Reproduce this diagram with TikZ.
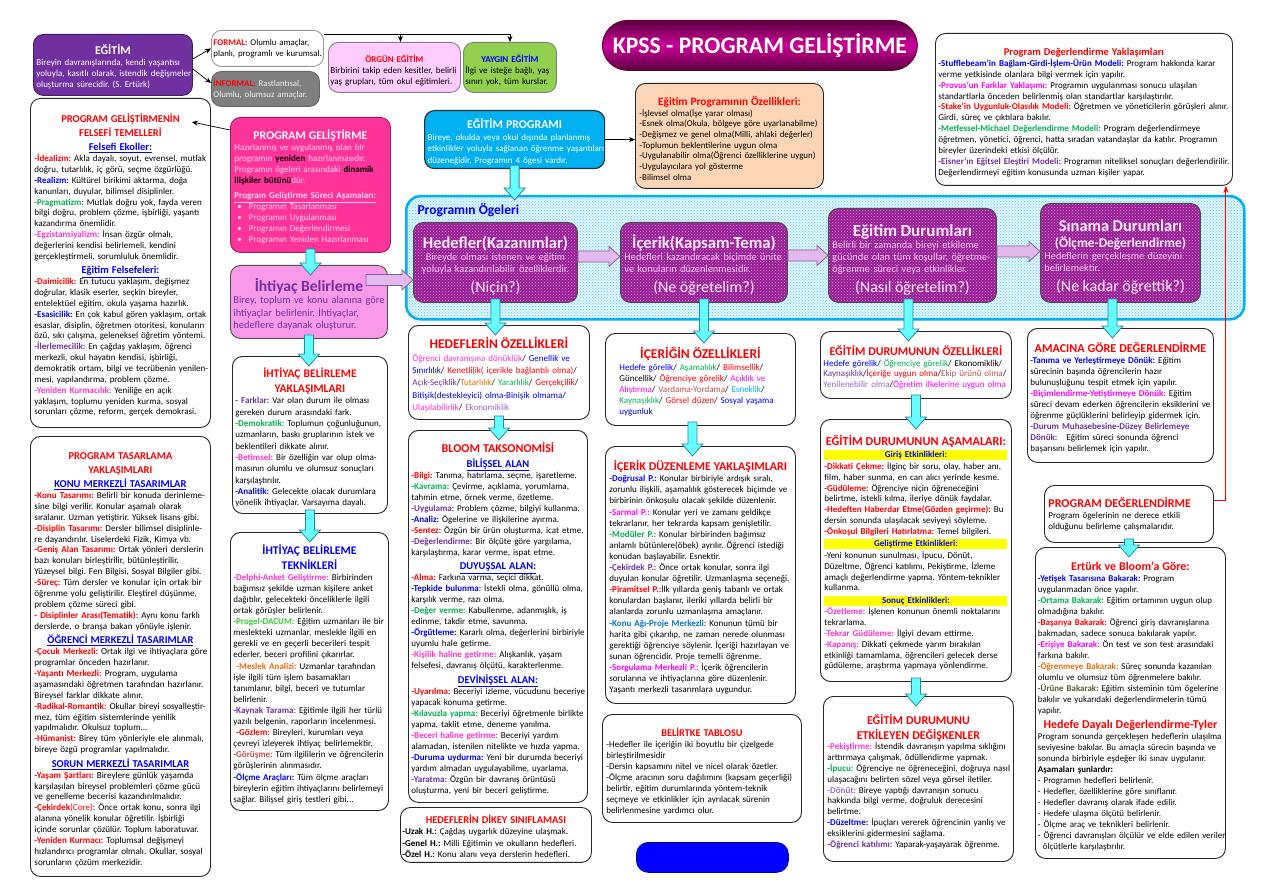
\documentclass[tikz,border=0pt]{standalone}
\usepackage{fontspec}
\setmainfont{Carlito}
\usepackage{xcolor}
\usepackage{tikz}
\usetikzlibrary{arrows.meta,calc,patterns,positioning}
\setlength{\parindent}{0pt}
\frenchspacing
\definecolor{kred}{HTML}{FF0000}
\definecolor{kblue}{HTML}{0000FF}
\definecolor{kgreen}{HTML}{00B050}
\definecolor{klgreen}{HTML}{33CC33}
\definecolor{kpink}{HTML}{FF33CC}
\definecolor{kmag}{HTML}{FF00FF}
\definecolor{kpurp}{HTML}{7030A0}
\definecolor{klpurp}{HTML}{9966CC}
\definecolor{korange}{HTML}{E46C0A}
\definecolor{kbrown}{HTML}{C0504D}
\definecolor{kcyan}{HTML}{00B0F0}
\definecolor{kolive}{HTML}{4F6228}
\definecolor{kkonu}{HTML}{0070C0}
\definecolor{egpurple}{HTML}{7030A0}
\definecolor{pgpink}{HTML}{FF3399}
\definecolor{pgtext}{HTML}{FFD6EE}
\definecolor{ihpink}{HTML}{F99AE9}
\definecolor{egblue}{HTML}{00B0F0}
\definecolor{peach}{HTML}{FBD5B5}
\definecolor{orgpink}{HTML}{FFCCFF}
\definecolor{ygreen}{HTML}{92D050}
\definecolor{infgray}{HTML}{7F7F7F}
\definecolor{ogpurple}{HTML}{961C94}
\definecolor{ogdot}{HTML}{D890D8}
\definecolor{ogsub}{HTML}{F4C8F0}
\definecolor{ogtitle}{HTML}{FBEAFB}
\definecolor{ogbg}{HTML}{DDF4FC}
\definecolor{ogbgdot}{HTML}{70CCF0}
\definecolor{arrcyan}{HTML}{66FFFF}
\definecolor{arrline}{HTML}{31859C}
\definecolor{arrpink}{HTML}{E4B8EC}
\definecolor{arrpurp}{HTML}{8064A2}
\definecolor{kpsmid}{HTML}{CC0099}
\definecolor{kpsdark}{HTML}{5A003E}
\definecolor{ybar}{HTML}{FFFF00}

\begin{document}
\begin{tikzpicture}[x=1pt, y=-1pt,
  font=\fontsize{9}{10.9}\selectfont,
  fs/.style 2 args={font=\fontsize{#1}{#2}\selectfont},
  card/.style={draw=black!85, line width=0.9pt, rounded corners=10pt, fill=white,
               anchor=north west, align=left, inner xsep=4pt, inner ysep=3pt,
               execute at begin node={\rightskip=-6pt plus 1fil\relax}},
  ogebox/.style={draw=black!70, line width=0.9pt, rounded corners=10pt,
               preaction={fill=ogpurple}, pattern=crosshatch dots, pattern color=ogdot,
               anchor=north west, align=left, text=ogtitle, inner xsep=4pt, inner ysep=2pt,
               font=\fontsize{10.3}{12}\selectfont,
               execute at begin node={\rightskip=-6pt plus 1fil\relax}},
  cyanarr/.style={fill=arrcyan, draw=arrline, line width=0.8pt},
  pinkarr/.style={fill=arrpink, draw=arrpurp, line width=0.8pt},
  con/.style={draw=black, line width=0.7pt, -{Stealth[length=6pt,width=5pt]}},
  redln/.style={draw=kred, line width=1pt, -{Stealth[length=7pt,width=5pt]}}
]
\newcommand{\boxtitle}[1]{\par{\centering #1\par}}
\newcommand{\secthead}[2][10.5]{\par{\centering\fontsize{#1}{14.5}\selectfont\bfseries\color{kblue}\underline{#2}\par}}
\newcommand{\hred}[1]{{\color{kred}\bfseries #1}}
\newcommand{\hblue}[1]{{\color{kblue}\bfseries #1}}
\newcommand{\hgreen}[1]{{\color{kgreen}\bfseries #1}}
\newcommand{\hlgreen}[1]{{\color{klgreen}\bfseries #1}}
\newcommand{\hpink}[1]{{\color{kpink}\bfseries #1}}
\newcommand{\hmag}[1]{{\color{kmag}\bfseries #1}}
\newcommand{\hpurp}[1]{{\color{kpurp}\bfseries #1}}
\newcommand{\hlpurp}[1]{{\color{klpurp}\bfseries #1}}
\newcommand{\horange}[1]{{\color{korange}\bfseries #1}}
\newcommand{\hbrown}[1]{{\color{kbrown}\bfseries #1}}
\newcommand{\holive}[1]{{\color{kolive}\bfseries #1}}
\newcommand{\hkonu}[1]{{\color{kkonu}\bfseries #1}}
\newcommand{\ybar}[1]{\par\vspace{1.5pt}{\setlength{\fboxsep}{1pt}\colorbox{ybar}{\makebox[\dimexpr\linewidth-2pt\relax]{\color{kblue}\bfseries #1}}\par}\vspace{1pt}}
\newcommand{\cyandown}[2]{%
  \path[cyanarr] let \p1=(#1), \p2=(#2) in
    (\x1-4.5pt,\y1+4pt) -- (\x1+4.5pt,\y1+4pt) -- (\x1+4.5pt,\y2+2pt)
    -- (\x1+10.5pt,\y2+2pt) -- (\x1,\y2-10pt) -- (\x1-10.5pt,\y2+2pt)
    -- (\x1-4.5pt,\y2+2pt) -- cycle;}
\newcommand{\pinkright}[2]{%
  \path[pinkarr] let \p1=(#1), \p2=(#2) in
    (\x1,\y1+5.5pt) -- (\x2-11pt,\y1+5.5pt) -- (\x2-11pt,\y1+10pt) -- (\x2,\y1)
    -- (\x2-11pt,\y1-10pt) -- (\x2-11pt,\y1-5.5pt) -- (\x1,\y1-5.5pt) -- cycle;}

\path[use as bounding box, fill=white] (0,0) rectangle (1263,893);

% ust sira
\node[card, fill=egpurple, draw=egpurple!60!black, text=white, inner xsep=3pt, text width=153pt,
      minimum height=61pt, fs={9}{11}] (egitim) at (33,34)
  {\boxtitle{\fontsize{11.9}{14}\selectfont\bfseries EĞİTİM}
   Bireyin davranışlarında, kendi yaşantısı\\
   yoluyla, kasıtlı olarak, istendik değişmeler\\
   oluşturma sürecidir. (S. Ertürk)};
\node[card, draw=black!40, inner xsep=2pt, text width=108pt, minimum height=36pt,
      fs={8.8}{11}] (formal) at (211,30)
  {\hred{FORMAL:} Olumlu amaçlar,\\ planlı, programlı ve kurumsal.};
\node[card, fill=infgray, draw=black!60, text=white!95!black, inner xsep=2pt,
      text width=104pt, minimum height=35pt, fs={8.8}{11}] (informal) at (211,71)
  {\hred{İNFORMAL:} Rastlantısal,\\ Olumlu, olumsuz amaçlar.};
\node[card, fill=orgpink, draw=black!50, inner xsep=2pt, text width=128pt,
      minimum height=50pt, fs={9}{11}] (orgun) at (328,42)
  {\boxtitle{\fontsize{8.9}{13}\selectfont\hred{ÖRGÜN EĞİTİM}}
   Birbirini takip eden kesitler, belirli\\ yaş grupları, tüm okul eğitimleri.};
\node[card, fill=ygreen, draw=black!50, inner xsep=2pt, text width=89pt,
      minimum height=50pt, fs={9}{11}] (yaygin) at (463,42)
  {\boxtitle{\fontsize{9}{13}\selectfont\hblue{YAYGIN EĞİTİM}}
   İlgi ve isteğe bağlı, yaş\\ sınırı yok, tüm kurslar.};
\node[anchor=north west, minimum width=315pt, minimum height=50pt, inner sep=0pt,
      rounded corners=25pt, draw=kpsdark, line width=0.8pt,
      top color=kpsdark, bottom color=kpsdark, middle color=kpsmid,
      text=white, font=\fontsize{23.7}{27}\selectfont\bfseries] (baslik) at (602,20)
  {KPSS - PROGRAM GELİŞTİRME};

\draw[con] ($(egitim.east)+(0,-6)$) -- (formal.west);
\draw[con] ($(egitim.east)+(0,4)$) -- ($(informal.west)+(0,-6)$);
\coordinate (fk) at ($(formal.north east)+(0,4)$);
\draw[con] (fk) -| (yaygin.north);
\draw[con] ([xshift=6pt]orgun.north |- fk) -- ([xshift=6pt]orgun.north);

\node[card, inner xsep=3pt, text width=291pt, minimum height=152pt, fs={9}{10.9}] (pdy) at (935,33)
 {\boxtitle{\color{kred}\fontsize{10.5}{13.5}\selectfont\bfseries Program Değerlendirme Yaklaşımları}
  \hblue{-Stufflebeam’in Bağlam-Girdi-İşlem-Ürün Modeli:} Program hakkında karar\\
  verme yetkisinde olanlara bilgi vermek için yapılır.\\
  \hmag{-Provus’un Farklar Yaklaşımı:} Programın uygulanması sonucu ulaşılan\\
  standartlarla önceden belirlenmiş olan standartlar karşılaştırılır.\\
  \hred{-Stake’in Uygunluk-Olasılık Modeli:} Öğretmen ve yöneticilerin görüşleri alınır.\\
  Girdi, süreç ve çıktılara bakılır.\\
  \hgreen{-Metfessel-Michael Değerlendirme Modeli:} Program değerlendirmeye\\
  öğretmen, yönetici, öğrenci, hatta sıradan vatandaşlar da katılır. Programın\\
  bireyler üzerindeki etkisi ölçülür.\\
  \hpurp{-Eisner’ın Eğitsel Eleştiri Modeli:} Programın niteliksel sonuçları değerlendirilir.\\
  Değerlendirmeyi eğitim konusunda uzman kişiler yapar.};

% egitim programi
\node[card, fill=egblue, draw=black!80, line width=1.2pt, text=white, inner xsep=3pt, text width=174pt,
      minimum height=58pt, fs={9}{11.6}] (egprog) at (424,110)
 {\boxtitle{\fontsize{11.9}{14.5}\selectfont\bfseries EĞİTİM PROGRAMI}
  Bireye, okulda veya okul dışında planlanmış\\
  etkinlikler yoluyla sağlanan öğrenme yaşantıları\\
  düzeneğidir. Programın 4 ögesi vardır.};
\node[card, fill=peach, text width=180pt, minimum height=105pt, fs={8.9}{10.7}] (egozel) at (635,83)
 {\boxtitle{\color{kred}\fontsize{11.3}{14}\selectfont\bfseries Eğitim Programının Özellikleri:}
  -İşlevsel olma(İşe yarar olması)\\
  -Esnek olma(Okula, bölgeye göre uyarlanabilme)\\
  -Değişmez ve genel olma(Milli, ahlaki değerler)\\
  -Toplumun beklentilerine uygun olma\\
  -Uygulanabilir olma(Öğrenci özelliklerine uygun)\\
  -Uygulayıcılara yol gösterme\\
  -Bilimsel olma};
\draw[con] (egprog.east) -- (egprog.east -| egozel.west);

% sol sutun
\node[card, text width=172pt, minimum height=329pt, fs={9}{10.85}] (felsefe) at (30,98)
 {\boxtitle{\color{kred}\fontsize{10.5}{13.5}\selectfont\bfseries PROGRAM GELİŞTİRMENİN\\ FELSEFİ TEMELLERİ}
  \secthead{Felsefi Ekoller:}
  \hred{-İdealizm:} Akla dayalı, soyut, evrensel, mutlak\\
  doğru, tutarlılık, iç görü, seçme özgürlüğü.\\
  \hblue{-Realizm:} Kültürel birikimi aktarma, doğa\\
  kanunları, duyular, bilimsel disiplinler.\\
  \hgreen{-Pragmatizm}: Mutlak doğru yok, fayda veren\\
  bilgi doğru, problem çözme, işbirliği, yaşantı\\
  kazandırma önemlidir.\\
  \hpink{-Egzistansiyalizm:} İnsan özgür olmalı,\\
  değerlerini kendisi belirlemeli, kendini\\
  gerçekleştirmeli, sorumluluk önemlidir.
  \secthead{Eğitim Felsefeleri:}
  \hred{-Daimicilik:} En tutucu yaklaşım, değişmez\\
  doğrular, klasik eserler, seçkin bireyler,\\
  entelektüel eğitim, okula yaşama hazırlık.\\
  \hblue{-Esasicilik:} En çok kabul gören yaklaşım, ortak\\
  esaslar, disiplin, öğretmen otoritesi, konuların\\
  özü, sıkı çalışma, geleneksel öğretim yöntemi.\\
  \hpurp{-İlerlemecilik:} En çağdaş yaklaşım, öğrenci\\
  merkezli, okul hayatın kendisi, işbirliği,\\
  demokratik ortam, bilgi ve tecrübenin yenilen-\\
  mesi, yapılandırma, problem çözme.\\
  \hpink{-Yeniden Kurmacılık:} Yeniliğe en açık\\
  yaklaşım, toplumu yeniden kurma, sosyal\\
  sorunları çözme, reform, gerçek demokrasi.};
\node[card, text width=172pt, minimum height=440pt, fs={9.1}{10.9}] (tasarim) at (30,436)
 {\boxtitle{\color{kred}\fontsize{10.5}{13.5}\selectfont\bfseries PROGRAM TASARLAMA\\ YAKLAŞIMLARI}
  \secthead{KONU MERKEZLİ TASARIMLAR}
  \hred{-Konu Tasarımı:} Belirli bir konuda derinleme-\\
  sine bilgi verilir. Konular aşamalı olarak\\
  sıralanır. Uzman yetiştirir. Yüksek lisans gibi.\\
  \hred{-Disiplin Tasarımı:} Dersler bilimsel disiplinle-\\
  re dayandırılır. Liselerdeki Fizik, Kimya vb.\\
  \hred{-Geniş Alan Tasarımı:} Ortak yönleri derslerin\\
  bazı konuları birleştirilir, bütünleştirilir.\\
  Yüzeysel bilgi. Fen Bilgisi, Sosyal Bilgiler gibi.\\
  \hred{-Süreç:} Tüm dersler ve konular için ortak bir\\
  öğrenme yolu geliştirilir. Eleştirel düşünme,\\
  problem çözme süreci gibi.\\
  \hred{- Disiplinler Arası(Tematik)}: Aynı konu farklı\\
  derslerde, o branşa bakan yönüyle işlenir.
  \secthead{ÖĞRENCİ MERKEZLİ TASARIMLAR}
  \hred{-Çocuk Merkezli:} Ortak ilgi ve ihtiyaçlara göre\\
  programlar önceden hazırlanır.\\
  \hred{-Yaşantı Merkezli:} Program, uygulama\\
  aşamasındaki öğretmen tarafından hazırlanır.\\
  Bireysel farklar dikkate alınır.\\
  \hred{-Radikal-Romantik:} Okullar bireyi sosyalleştir-\\
  mez, tüm eğitim sistemlerinde yenilik\\
  yapılmalıdır. Okulsuz toplum...\\
  \hred{-Hümanist:} Birey tüm yönleriyle ele alınmalı,\\
  bireye özgü programlar yapılmalıdır.
  \secthead{SORUN MERKEZLİ TASARIMLAR}
  \hred{-Yaşam Şartları:} Bireylere günlük yaşamda\\
  karşılaşılan bireysel problemleri çözme gücü\\
  ve genelleme becerisi kazandırılmalıdır.\\
  \hred{-Çekirdek}\textcolor{kred}{(Core)}: Önce ortak konu, sonra ilgi\\
  alanına yönelik konular öğretilir. İşbirliği\\
  içinde sorunlar çözülür. Toplum laboratuvar.\\
  \hred{-Yeniden Kurmacı:} Toplumsal değişmeyi\\
  hızlandırıcı programlar olmalı. Okullar, sosyal\\
  sorunların çözüm merkezidir.};

% program gelistirme sutunu
\node[card, fill=pgpink, draw=pgpink!60!black, text=pgtext, text width=152pt,
      minimum height=135pt, fs={9}{11}] (progel) at (230,117)
 {\boxtitle{\color{white}\fontsize{11.8}{14.5}\selectfont\bfseries PROGRAM GELİŞTİRME}
  Hazırlanmış ve uygulanmış olan bir\\
  programın {\color{black}\bfseries yeniden} hazırlanmasıdır.\\
  Programın ögeleri arasındaki {\color{black}\bfseries dinamik}\\
  {\color{black}\bfseries ilişkiler bütünü}dür.\par\vspace{4pt}
  {\bfseries\underline{Program Geliştirme Süreci Aşamaları:}}\\
  \hspace*{3pt}\textbullet\hspace{7pt}Programın Tasarlanması\\
  \hspace*{3pt}\textbullet\hspace{7pt}Programın Uygulanması\\
  \hspace*{3pt}\textbullet\hspace{7pt}Programın Değerlendirmesi\\
  \hspace*{3pt}\textbullet\hspace{7pt}Programın Yeniden Hazırlanması};
\draw[con] ($(progel.north west)+(0,13)$) -- ($(felsefe.north east)+(-19,24)$);
\node[card, fill=ihpink, draw=black!70, text=kpurp, inner xsep=3pt, text width=151pt,
      minimum height=73pt, fs={10.4}{12.3}] (ihtiyac) at (230,265)
 {\boxtitle{\fontsize{15.6}{18}\selectfont\bfseries İhtiyaç Belirleme}
  Birey, toplum ve konu alanına göre\\ ihtiyaçlar belirlenir. İhtiyaçlar,\\ hedeflere dayanak oluşturur.};
\node[card, inner xsep=3pt, text width=149pt, minimum height=157pt, fs={9}{11.3}] (yaklasim) at (232,356)
 {\boxtitle{\color{kred}\fontsize{11.6}{15}\selectfont\bfseries İHTİYAÇ BELİRLEME\\ YAKLAŞIMLARI}
  \hpurp{- Farklar:} Var olan durum ile olması\\
  gereken durum arasındaki fark.\\
  \hgreen{-Demokratik:} Toplumun çoğunluğunun,\\
  uzmanların, baskı gruplarının istek ve\\
  beklentileri dikkate alınır.\\
  \hpink{-Betimsel:} Bir özelliğin var olup olma-\\
  masının olumlu ve olumsuz sonuçları\\
  karşılaştırılır.\\
  \hblue{-Analitik:} Gelecekte olacak durumlara\\
  yönelik ihtiyaçlar. Varsayıma dayalı.};
\node[card, inner xsep=3pt, text width=152pt, minimum height=278pt, fs={9}{11.1}] (teknik) at (230,532)
 {\boxtitle{\color{kblue}\fontsize{11.7}{15}\selectfont\bfseries İHTİYAÇ BELİRLEME\\ TEKNİKLERİ}
  \hpink{-Delphi-Anket Geliştirme:} Birbirinden\\
  bağımsız şekilde uzman kişilere anket\\
  dağıtılır, gelecekteki önceliklerle ilgili\\
  ortak görüşler belirlenir.\\
  \hlgreen{-Progel-DACUM:} Eğitim uzmanları ile bir\\
  meslekteki uzmanlar, meslekle ilgili en\\
  gerekli ve en geçerli becerileri tespit\\
  ederler, beceri profilini çıkarırlar.\\
  \horange{\ -Meslek Analizi:} Uzmanlar tarafından\\
  işle ilgili tüm işlem basamakları\\
  tanımlanır, bilgi, beceri ve tutumlar\\
  belirlenir.\\
  \hpurp{-Kaynak Tarama:} Eğitimle ilgili her türlü\\
  yazılı belgenin, raporların incelenmesi.\\
  \hred{\ -Gözlem:} Bireyleri, kurumları veya\\
  çevreyi izleyerek ihtiyaç belirlemektir.\\
  \hbrown{-Görüşme:} Tüm ilgililerin ve öğrencilerin\\
  görüşlerinin alınmasıdır.\\
  \hblue{-Ölçme Araçları:} Tüm ölçme araçları\\
  bireylerin eğitim ihtiyaçlarını belirlemeyi\\
  sağlar. Bilişsel giriş testleri gibi...};

% programin ogeleri
\node[anchor=north west, minimum width=838pt, minimum height=123pt, inner sep=0pt,
      draw=kcyan, line width=2.5pt, rounded corners=14pt,
      preaction={fill=ogbg}, pattern=crosshatch dots, pattern color=ogbgdot] (ogeler) at (405,195) {};
\node[anchor=west, text=kblue, font=\fontsize{13.5}{16}\selectfont\bfseries] (ogelbl) at (414,210) {Programın Ögeleri};
\node[ogebox, text width=156pt, minimum height=80pt] (hedef) at (413,222)
 {\boxtitle{\fontsize{16.5}{19}\selectfont\bfseries Hedefler(Kazanımlar)}
  \boxtitle{\color{ogsub}Bireyde olması istenen ve eğitim\\ yoluyla kazandırılabilir özelliklerdir.}
  \boxtitle{\fontsize{16}{20}\selectfont (Niçin?)}};
\node[ogebox, text width=159pt, minimum height=80pt] (icerik) at (620,222)
 {\boxtitle{\fontsize{16.7}{19}\selectfont\bfseries İçerik(Kapsam-Tema)}
  {\color{ogsub}Hedefleri kazandıracak biçimde ünite\\ ve konuların düzenlenmesidir.\par}
  \boxtitle{\fontsize{16}{20}\selectfont (Ne öğretelim?)}};
\node[ogebox, text width=160pt, minimum height=94pt] (durum) at (828,208)
 {\boxtitle{\fontsize{17}{20}\selectfont\bfseries Eğitim Durumları}
  {\color{ogsub}Belirli bir zamanda bireyi etkileme\\ gücünde olan tüm koşullar, öğretme-\\ öğrenme süreci veya etkinlikler.\par}
  \boxtitle{\fontsize{16}{20}\selectfont (Nasıl öğretelim?)}};
\node[ogebox, text width=152pt, minimum height=99pt] (sinama) at (1040,203)
 {\boxtitle{\fontsize{16.5}{19}\selectfont\bfseries Sınama Durumları}
  \boxtitle{\fontsize{13.4}{16}\selectfont\bfseries (Ölçme-Değerlendirme)}
  {\color{ogsub}Hedeflerin gerçekleşme düzeyini\\ belirlemektir.\par}
  \boxtitle{\fontsize{16}{20}\selectfont (Ne kadar öğrettik?)}};

% hedefler sutunu
\node[card, text width=173pt, minimum height=94pt, fs={9}{12.3}] (hozel) at (408,325)
 {\boxtitle{\color{kred}\fontsize{13.4}{16}\selectfont\bfseries HEDEFLERİN ÖZELLİKLERİ}
  \textcolor{kpink}{Öğrenci davranışına dönüklük}/ \textcolor{kblue}{Genellik ve}\\
  \textcolor{kblue}{Sınırlılık}/ \textcolor{kred}{Kenetlilik( içerikle bağlantılı olma)}/\\
  \textcolor{kpurp}{Açık-Seçiklik}/\textcolor{korange}{Tutarlılık}/ \textcolor{kgreen}{Yararlılık}/ \textcolor{kred}{Gerçekçilik}/\\
  \textcolor{kblue}{Bitişik(destekleyici) olma-Binişik olmama}/\\
  \textcolor{kpink}{Ulaşılabilirlik}/ \textcolor{klpurp}{Ekonomiklik}};
\node[card, inner xsep=3pt, text width=173pt, minimum height=372pt, fs={9}{11}] (bloom) at (408,430)
 {\boxtitle{\color{kred}\fontsize{12}{15}\selectfont\bfseries BLOOM TAKSONOMİSİ}
  \secthead{BİLİŞSEL ALAN}
  \hred{-Bilgi:} Tanıma, hatırlama, seçme, işaretleme.\\
  \hgreen{-Kavrama:} Çevirme, açıklama, yorumlama,\\
  tahmin etme, örnek verme, özetleme.\\
  \hpurp{-Uygulama}: Problem çözme, bilgiyi kullanma.\\
  \hblue{-Analiz:} Ögelerine ve ilişkilerine ayırma.\\
  \hred{-Sentez}: Özgün bir ürün oluşturma, icat etme.\\
  \hpurp{-Değerlendirme:} Bir ölçüte göre yargılama,\\
  karşılaştırma, karar verme, ispat etme.
  \secthead{DUYUŞSAL ALAN:}
  \hred{-Alma:} Farkına varma, seçici dikkat.\\
  \hblue{-Tepkide bulunma}: İstekli olma, gönüllü olma,\\
  karşılık verme, razı olma.\\
  \hgreen{-Değer verme:} Kabullenme, adanmışlık, iş\\
  edinme, takdir etme, savunma.\\
  \hblue{-Örgütleme:} Kararlı olma, değerlerini birbiriyle\\
  uyumlu hale getirme.\\
  \hpink{-Kişilik haline getirme:} Alışkanlık, yaşam\\
  felsefesi, davranış ölçütü, karakterlenme.
  \secthead{DEVİNİŞSEL ALAN:}
  \hred{-Uyarılma:} Beceriyi izleme, vücudunu beceriye\\
  yapacak konuma getirme.\\
  \hgreen{-Kılavuzla yapma:} Beceriyi öğretmenle birlikte\\
  yapma, taklit etme, deneme yanılma.\\
  \hpink{-Beceri haline getirme:} Beceriyi yardım\\
  alamadan, istenilen nitelikte ve hızda yapma.\\
  \hblue{-Duruma uydurma:} Yeni bir durumda beceriyi\\
  yardım almadan uygulayabilme, uyarlama.\\
  \hpurp{-Yaratma:} Özgün bir davranış örüntüsü\\
  oluşturma, yeni bir beceri geliştirme.};
\node[card, inner xsep=2pt, text width=187pt, minimum height=54pt, fs={9}{11.5}] (dikey) at (400,807)
 {\boxtitle{\color{kred}\fontsize{10.4}{13}\selectfont\bfseries HEDEFLERİN DİKEY SINIFLAMASI}
  {\bfseries -Uzak H.:} Çağdaş uygarlık düzeyine ulaşmak.\\
  {\bfseries -Genel H.:} Milli Eğitimin ve okulların hedefleri.\\
  {\bfseries -Özel H.:} Konu alanı veya derslerin hedefleri.};

% icerik sutunu
\node[card, inner xsep=14pt, text width=162pt, minimum height=92pt, fs={9}{11.1}] (iozel) at (605,333)
 {\boxtitle{\color{kred}\fontsize{13.5}{16}\selectfont\bfseries İÇERİĞİN ÖZELLİKLERİ}
  \textcolor{kblue}{Hedefe görelik}/ \textcolor{kgreen}{Aşamalılık}/ \textcolor{kred}{Bilimsellik}/\\
  Güncellik/ \textcolor{kred}{Öğrenciye görelik}/ \textcolor{kmag}{Açıklık ve}\\
  \textcolor{kmag}{Alıştırma}/ \textcolor{kbrown}{Vardama-Yordama}/ \textcolor{kcyan}{Esneklik}/\\
  \textcolor{kgreen}{Kaynaşıklık}/ \textcolor{kred}{Görsel düzen}/ \textcolor{kblue}{Sosyal yaşama}\\
  \textcolor{kblue}{uygunluk}};
\node[card, text width=182pt, minimum height=257pt, fs={9}{11.1}] (iduz) at (605,446)
 {\boxtitle{\color{kred}\fontsize{12}{15}\selectfont\bfseries İÇERİK DÜZENLEME YAKLAŞIMLARI}
  \hblue{-Doğrusal P.:} Konular birbiriyle ardışık sıralı,\\
  zorunlu ilişkili, aşamalılık gösterecek biçimde ve\\
  birbirinin önkoşulu olacak şekilde düzenlenir.\\
  \hmag{-Sarmal P.:} Konular yeri ve zamanı geldikçe\\
  tekrarlanır, her tekrarda kapsam genişletilir.\\
  \hgreen{-Modüler P.:} Konular birbirinden bağımsız\\
  anlamlı bütünlere(öbek) ayrılır. Öğrenci istediği\\
  konudan başlayabilir. Esnektir.\\
  \hpurp{-Çekirdek P.:} Önce ortak konular, sonra ilgi\\
  duyulan konular öğretilir. Uzmanlaşma seçeneği.\\
  \hred{-Piramitsel P.:}İlk yıllarda geniş tabanlı ve ortak\\
  konulardan başlanır, ileriki yıllarda belirli bir\\
  alanlarda zorunlu uzmanlaşma amaçlanır.\\
  \hkonu{-Konu Ağı-Proje Merkezli:} Konunun tümü bir\\
  harita gibi çıkarılıp, ne zaman nerede olunması\\
  gerektiği öğrenciye söylenir. İçeriği hazırlayan ve\\
  sunan öğrencidir. Proje temelli öğrenme.\\
  \hmag{-Sorgulama Merkezli P.:} İçerik öğrencilerin\\
  sorularına ve ihtiyaçlarına göre düzenlenir.\\
  Yaşantı merkezli tasarımlara uygundur.};
\node[card, text width=191pt, minimum height=108pt, fs={9}{11}] (belirtke) at (602,714)
 {\boxtitle{\color{kred}\fontsize{10.3}{14}\selectfont\bfseries BELİRTKE TABLOSU}
  -Hedefler ile içeriğin iki boyutlu bir çizelgede\\
  birleştirilmesidir\\
  -Dersin kapsamını nitel ve nicel olarak özetler.\\
  -Ölçme aracının soru dağılımını (kapsam geçerliği)\\
  belirtir, eğitim durumlarında yöntem-teknik\\
  seçmeye ve etkinlikler için ayrılacak sürenin\\
  belirlenmesine yardımcı olur.};
\node[anchor=north west, minimum width=152pt, minimum height=30pt, inner sep=0pt,
      rounded corners=12pt, fill=kblue, draw=kblue!60!black, line width=0.8pt] (mavi) at (636,842) {};

% egitim durumlari sutunu
\node[card, inner xsep=3pt, text width=185pt, minimum height=67pt, fs={9}{10.8}] (dozel) at (820,331)
 {\boxtitle{\color{kred}\fontsize{11.9}{14.5}\selectfont\bfseries EĞİTİM DURUMUNUN ÖZELLİKLERİ}
  \textcolor{kblue}{Hedefe görelik}/ \textcolor{kgreen}{Öğrenciye görelik}/ Ekonomiklik/\\
  \textcolor{kpurp}{Kaynaşıklık}/\textcolor{kred}{İçeriğe uygun olma}/\textcolor{kbrown}{Ekip ürünü olma}/\\
  \textcolor{klpurp}{Yenilenebilir olma}/\textcolor{kmag}{Öğretim ilkelerine uygun olma}};
\node[card, text width=183pt, minimum height=262pt, fs={9}{10.8}] (asama) at (820,419)
 {\boxtitle{\color{kred}\fontsize{12.2}{15}\selectfont\bfseries EĞİTİM DURUMUNUN AŞAMALARI:}
  \ybar{Giriş Etkinlikleri:}
  \hred{-Dikkati Çekme:} İlginç bir soru, olay, haber anı,\\
  film, haber sunma, en can alıcı yerinde kesme.\\
  \hred{-Güdüleme:} Öğrenciye niçin öğreneceğini\\
  belirtme, istekli kılma, ileriye dönük faydalar.\\
  \hred{-Hedeften Haberdar Etme(Gözden geçirme):} Bu\\
  dersin sonunda ulaşılacak seviyeyi söyleme.\\
  \hred{-Önkoşul Bilgileri Hatırlatma:} Temel bilgileri.
  \ybar{Geliştirme Etkinlikleri:}
  -Yeni konunun sunulması, İpucu, Dönüt,\\
  Düzeltme, Öğrenci katılımı, Pekiştirme, İzleme\\
  amaçlı değerlendirme yapma. Yöntem-teknikler\\
  kullanma.
  \ybar{Sonuç Etkinlikleri:}
  \hpink{-Özetleme:} İşlenen konunun önemli noktalarını\\
  tekrarlama.\\
  \hpink{-Tekrar Güdüleme:} İlgiyi devam ettirme.\\
  \hpink{-Kapanış:} Dikkati çekmede yarım bırakılan\\
  etkinliği tamamlama, öğrencileri gelecek derse\\
  güdüleme, araştırma yapmaya yönlendirme.};
\node[card, text width=182pt, minimum height=165pt, fs={9}{10.8}] (etkdeg) at (823,696)
 {\boxtitle{\color{kred}\fontsize{12}{15}\selectfont\bfseries EĞİTİM DURUMUNU\\ ETKİLEYEN DEĞİŞKENLER}
  \hpink{-Pekiştirme:} İstendik davranışın yapılma sıklığını\\
  arttırmaya çalışmak, ödüllendirme yapmak.\\
  \hgreen{-İpucu:} Öğrenciye ne öğreneceğini, doğruya nasıl\\
  ulaşacağını belirten sözel veya görsel iletiler.\\
  \hlpurp{-Dönüt:} Bireye yaptığı davranışın sonucu\\
  hakkında bilgi verme, doğruluk derecesini\\
  belirtme.\\
  \hblue{-Düzeltme:} İpuçları vererek öğrencinin yanlış ve\\
  eksiklerini gidermesini sağlama.\\
  \hpurp{-Öğrenci katılımı:} Yaparak-yaşayarak öğrenme.};

% degerlendirme sutunu
\node[card, inner xsep=3pt, text width=180pt, minimum height=134pt, fs={9}{11}] (amac) at (1027,328)
 {\boxtitle{\color{kred}\fontsize{12.1}{15}\selectfont\bfseries AMACINA GÖRE DEĞERLENDİRME}
  \hblue{-Tanıma ve Yerleştirmeye Dönük:} Eğitim\\
  sürecinin başında öğrencilerin hazır\\
  bulunuşluğunu tespit etmek için yapılır.\\
  \hmag{-Biçimlendirme-Yetiştirmeye Dönük:} Eğitim\\
  süreci devam ederken öğrencilerin eksiklerini ve\\
  öğrenme güçlüklerini belirleyip gidermek için.\\
  \hpurp{-Durum Muhasebesine-Düzey Belirlemeye}\\
  \hpurp{Dönük:}\quad Eğitim süreci sonunda öğrenci\\
  başarısını belirlemek için yapılır.};
\node[card, align=center, text width=161pt, minimum height=57pt, fs={9}{11},
      execute at begin node={}] (pdeg) at (1044,485)
 {{\color{kred}\fontsize{12}{15}\selectfont\bfseries PROGRAM DEĞERLENDİRME\par}
  Program ögelerinin ne derece etkili\\ olduğunu belirleme çalışmalarıdır.};
\node[card, inner xsep=2.5pt, text width=185pt, minimum height=311pt, fs={8.9}{11}] (erturk) at (1035,547)
 {\boxtitle{\color{kred}\fontsize{11.9}{15}\selectfont\bfseries Ertürk ve Bloom’a Göre:}
  \hblue{-Yetişek Tasarısına Bakarak:} Program\\
  uygulanmadan önce yapılır.\\
  \hgreen{-Ortama Bakarak:} Eğitim ortamının uygun olup\\
  olmadığına bakılır.\\
  \hred{-Başarıya Bakarak:} Öğrenci giriş davranışlarına\\
  bakmadan, sadece sonuca bakılarak yapılır.\\
  \hmag{-Erişiye Bakarak:} Ön test ve son test arasındaki\\
  farkına bakılır.\\
  \horange{-Öğrenmeye Bakarak:} Süreç sonunda kazanılan\\
  olumlu ve olumsuz tüm öğrenmelere bakılır.\\
  \holive{-Ürüne Bakarak:} Eğitim sisteminin tüm ögelerine\\
  bakılır ve yukarıdaki değerlendirmelerin tümü\\
  yapılır.
  \boxtitle{\color{kred}\fontsize{12}{15}\selectfont\bfseries Hedefe Dayalı Değerlendirme-Tyler}
  Program sonunda gerçekleşen hedeflerin ulaşılma\\
  seviyesine bakılar. Bu amaçla sürecin başında ve\\
  sonunda birbiriyle eşdeğer iki sınav uygulanır.\\
  {\bfseries Aşamaları şunlardır:}\\
  - Programın hedefleri belirlenir.\\
  - Hedefler, özelliklerine göre sınıflanır.\\
  - Hedefler davranış olarak ifade edilir.\\
  - Hedefe ulaşma ölçütü belirlenir.\\
  - Ölçme araç ve teknikleri belirlenir.\\
  - Öğrenci davranışları ölçülür ve elde edilen veriler\\
  \hspace*{5pt}ölçütlerle karşılaştırılır.};
\draw[redln] ($(pdeg.east)+(0,-13)$) -- ++(12,0) coordinate (rc) -- (rc |- pdy.south);

% ok baglantilari
\cyandown{egprog.south}{$(ogeler.north)+(0,-5)$}
\cyandown{progel.south}{ihtiyac.north}
\cyandown{ihtiyac.south}{yaklasim.north}
\cyandown{yaklasim.south}{teknik.north}
\cyandown{hedef.south}{hozel.north}
\cyandown{hozel.south}{bloom.north}
\cyandown{icerik.south}{iozel.north}
\cyandown{$(iozel.south)+(-8,0)$}{iduz.north}
\cyandown{$(durum.south)+(-4,0)$}{dozel.north}
\cyandown{dozel.south}{asama.north}
\cyandown{asama.south}{etkdeg.north}
\cyandown{$(sinama.south)+(-8,0)$}{amac.north}
\cyandown{pdeg.south}{erturk.north}
\pinkright{$(ihtiyac.east)+(-22,-22)$}{hedef.west}
\pinkright{$(hedef.east)+(0,-6)$}{icerik.west}
\pinkright{$(icerik.east)+(0,-7)$}{durum.west}
\pinkright{$(durum.east)+(0,-4)$}{sinama.west}
\end{tikzpicture}
\end{document}
